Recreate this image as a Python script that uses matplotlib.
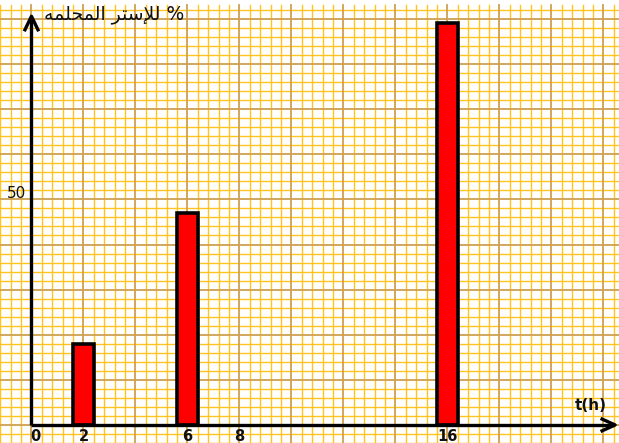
import numpy as np
import matplotlib
matplotlib.use("Agg")
import matplotlib.pyplot as plt

# ---- data ----
times = [2, 6, 16]
percent = [18, 47, 89]
xtick_pos = [0, 2, 6, 8, 16]
xtick_labels = ["0", "2", "6", "8", "16"]
ytick_pos = [50]
ytick_labels = ["50"]
# Arabic title "% للإستر المحلمه" given in visual order with presentation forms
title_text = "\uFEEA\uFEE4\uFEE0\uFEA4\uFEE4\uFEDF\uFE8D \uFEAE\uFE98\uFEB3\uFEFA\uFEDF %"
xlabel_text = "t(h)"

fig = plt.figure(figsize=(6.19, 4.43), dpi=100)
ax = fig.add_axes([0, 0, 1, 1])
x0, x1 = -1.21, 22.6
y0, y1 = -4.0, 94.2
ax.set_xlim(x0, x1)
ax.set_ylim(y0, y1)
ax.axis("off")

minor_c = "#FFC41F"
major_c = "#CFA050"
grid_top = 92.3
# vertical grid lines
for xv in np.arange(-1.2, x1, 0.4):
    k = int(round(xv / 0.4))
    if k % 5 == 0:
        ax.plot([xv, xv], [y0, grid_top + 0.8], color=major_c, lw=1.3, zorder=1)
    else:
        ax.plot([xv, xv], [y0, grid_top + 0.8], color=minor_c, lw=1.0, zorder=0.9)
# horizontal grid lines
for yv in np.arange(-4, grid_top + 0.1, 2):
    k = int(round(yv / 2))
    if k % 5 == 0:
        ax.plot([-1.3, x1], [yv, yv], color=major_c, lw=1.3, zorder=1)
    else:
        ax.plot([-1.3, x1], [yv, yv], color=minor_c, lw=1.0, zorder=0.9)

# bars
ax.bar(times, percent, width=0.8, color="#FF0000", edgecolor="black",
       linewidth=2.6, zorder=3)

# axes with arrows
ax.plot([0, 0], [0, 90.3], color="black", lw=2.4, zorder=4, solid_capstyle="butt")
ax.plot([0, 22.4], [0, 0], color="black", lw=2.4, zorder=4, solid_capstyle="butt")
ax.plot([-0.25, 0, 0.25], [87.6, 90.6, 87.6], color="black", lw=2.4, zorder=4)
ax.plot([21.95, 22.45, 21.95], [1.3, 0, -1.3], color="black", lw=2.4, zorder=4)

# tick labels
for xp, lab in zip(xtick_pos, xtick_labels):
    ax.text(xp + (0.15 if xp == 0 else 0), -0.8, lab, ha="center", va="top",
            fontsize=10.5, fontweight="bold", color="#111111", zorder=5,
            family="DejaVu Sans")
for yp, lab in zip(ytick_pos, ytick_labels):
    ax.text(-0.22, yp + 1.2, lab, ha="right", va="center", fontsize=11,
            color="#111111", zorder=5)

ax.text(4.0, -0.5, "\u02C9", ha="center", va="top", fontsize=10, color="#333333")

ax.text(21.5, 4.4, xlabel_text, ha="center", va="center", fontsize=11,
        fontweight="bold", color="#111111", zorder=5)
ax.text(0.5, 91.0, title_text, ha="left", va="center", fontsize=13.5,
        color="#111111", family="DejaVu Sans", zorder=5)

fig.savefig("out.png", dpi=100)
